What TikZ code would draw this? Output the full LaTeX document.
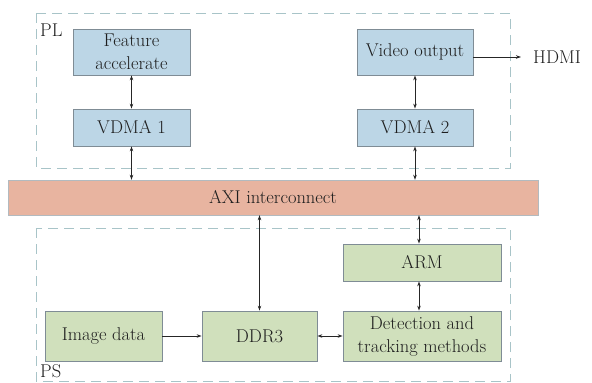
\documentclass[tikz,border=0pt]{standalone}
\usetikzlibrary{arrows.meta}
\definecolor{bluefill}{HTML}{BCD6E6}
\definecolor{greenfill}{HTML}{D0E0BC}
\definecolor{orangefill}{HTML}{E8B4A0}
\definecolor{dashcol}{HTML}{A8C4C8}
\definecolor{edgecol}{HTML}{7F8C95}
\definecolor{txt}{HTML}{1E1E1E}
\begin{document}
\begin{tikzpicture}[x=1pt,y=-1pt,
  every node/.style={font=\fontsize{18.5}{23}\selectfont, text=txt},
  bluebox/.style={draw=edgecol, fill=bluefill, line width=0.8pt, inner sep=0pt, align=center},
  greenbox/.style={draw=edgecol, fill=greenfill, line width=0.8pt, inner sep=0pt, align=center},
  region/.style={draw=dashcol, dash pattern=on 10pt off 6pt, line width=1pt},
  link/.style={draw=black!85, line width=0.8pt, {Stealth[length=5pt,width=3.5pt]}-{Stealth[length=5pt,width=3.5pt]}},
  onelink/.style={draw=black!85, line width=0.8pt, -{Stealth[length=5pt,width=3.5pt]}}]
\useasboundingbox (0,0) rectangle (592,383);
% regions
\draw[region] (36,13) rectangle (510,168);
\draw[region] (36,228) rectangle (510,381);
\node[anchor=west, inner sep=0pt] (pl) at (40,30) {PL};
\node[anchor=west, inner sep=0pt] (ps) at (40,371) {PS};
% AXI bar
\node[draw=edgecol!60, fill=orangefill, minimum width=530pt, minimum height=35pt, inner sep=0pt] (axi) at (273,197.5) {AXI interconnect};
% PL boxes
\node[bluebox, minimum width=117pt, minimum height=46pt] (feat) at (131.5,52) {Feature\\accelerate};
\node[bluebox, minimum width=117pt, minimum height=37pt] (v1) at (131.5,127.5) {VDMA 1};
\node[bluebox, minimum width=116pt, minimum height=46pt] (vid) at (415,52) {Video output};
\node[bluebox, minimum width=116pt, minimum height=37pt] (v2) at (415,127.5) {VDMA 2};
\node[anchor=west, inner sep=0pt] (hdmi) at (533,57) {HDMI};
\coordinate (hdmiend) at (521,57);
% PS boxes
\node[greenbox, minimum width=158pt, minimum height=37pt] (arm) at (422,262.5) {ARM};
\node[greenbox, minimum width=158pt, minimum height=50pt] (det) at (422,336) {Detection and\\tracking methods};
\node[greenbox, minimum width=115pt, minimum height=50pt] (ddr) at (259.5,336) {DDR3};
\node[greenbox, minimum width=117pt, minimum height=50pt] (img) at (103.5,336) {Image data};
% connectors
\draw[link] (feat.south) -- (v1.north);
\draw[link] (v1.south) -- (v1.south |- axi.north);
\draw[link] (vid.south) -- (v2.north);
\draw[link] (v2.south) -- (v2.south |- axi.north);
\draw[onelink] (vid.east |- hdmiend) -- (hdmiend);
\draw[link] (axi.south -| ddr.north) -- (ddr.north);
\draw[link] (axi.south -| 419,0) -- (arm.north -| 419,0);
\draw[link] (arm.south -| 419,0) -- (det.north -| 419,0);
\draw[onelink] (img.east) -- (ddr.west);
\draw[link] (ddr.east) -- (det.west);
\end{tikzpicture}
\end{document}
